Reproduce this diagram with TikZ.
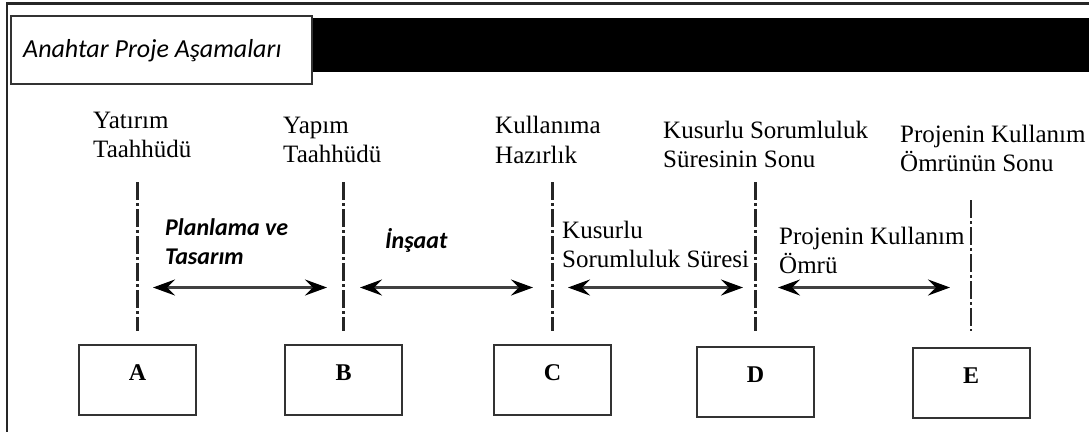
\documentclass[tikz,border=0pt]{standalone}
\usepackage{fontspec}
\setmainfont{Liberation Serif}
\newfontfamily\calib{Carlito}
\usetikzlibrary{arrows.meta}
\begin{document}
\begin{tikzpicture}[x=1pt,y=-1pt,
  frame/.style={draw=black!85, line width=2.2pt},
  ser/.style={font=\fontsize{25}{29}\selectfont, inner sep=0pt, anchor=base west},
  phase/.style={font=\calib\fontsize{24}{29}\selectfont\bfseries\itshape, inner sep=0pt, anchor=base west},
  mbox/.style={draw=black!80, line width=2pt, minimum width=117pt, minimum height=70pt, inner sep=0pt, text height=17pt, text depth=16pt, font=\fontsize{24}{28}\selectfont\bfseries},
  vline/.style={draw=black!85, line width=2.2pt, dash pattern=on 18pt off 3pt on 3pt off 3pt, shorten >=12.5pt},
  span/.style={draw=black!75, line width=2.4pt,
    {Stealth[length=22pt,width=16pt,inset=8pt,color=black]}-{Stealth[length=22pt,width=16pt,inset=8pt,color=black]}}
]
\useasboundingbox (0,0) rectangle (1089,432);
% frame
\draw[frame] (1089,3.5) -- (7,3.5) -- (7,432);
% black bar and title
\fill[black] (300,18) rectangle (1089,72);
\node[draw=black!80, fill=white, line width=1.8pt, minimum width=301pt, minimum height=68pt, anchor=north west, inner sep=0pt] (title) at (10,15) {};
\node[font=\calib\fontsize{26}{30}\selectfont\itshape, inner sep=0pt, anchor=base west] (titletext) at (23,57) {Anahtar Proje Aşamaları};
% milestone labels
\node[ser] (l1a) at (93,128) {Yatırım};
\node[ser] (l1b) at (93,157) {Taahhüdü};
\node[ser] (l2a) at (283,133) {Yapım};
\node[ser] (l2b) at (283,162) {Taahhüdü};
\node[ser] (l3a) at (495,133) {Kullanıma};
\node[ser] (l3b) at (495,163) {Hazırlık};
\node[ser] (l4a) at (663,138) {Kusurlu Sorumluluk};
\node[ser] (l4b) at (663,167) {Süresinin Sonu};
\node[ser] (l5a) at (900,142) {Projenin Kullanım};
\node[ser] (l5b) at (900,171) {Ömrünün Sonu};
% phase labels
\node[phase] (p1a) at (165,235) {Planlama ve};
\node[phase] (p1b) at (165,264) {Tasarım};
\node[phase] (p2) at (385,248) {İnşaat};
\node[ser] (p3a) at (562,238) {Kusurlu};
\node[ser] (p3b) at (562,267) {Sorumluluk Süresi};
\node[ser] (p4a) at (779,244) {Projenin Kullanım};
\node[ser] (p4b) at (779,273) {Ömrü};
% boxes
\node[mbox] (A) at (137.5,379.5) {A};
\node[mbox] (B) at (343.5,379.5) {B};
\node[mbox] (C) at (552.5,379.5) {C};
\node[mbox] (D) at (755.5,382) {D};
\node[mbox] (E) at (971,383) {E};
% vertical dash-dot lines
\coordinate (tA) at (A.north |- 0,182);
\coordinate (tB) at (B.north |- 0,182);
\coordinate (tC) at (C.north |- 0,182);
\coordinate (tD) at (D.north |- 0,182);
\coordinate (tE) at (E.north |- 0,200);
\draw[vline] (tA) -- (A.north);
\draw[vline] (tB) -- (B.north);
\draw[vline] (tC) -- (C.north);
\draw[vline, shorten >=15pt] (tD) -- (D.north);
\draw[vline, shorten >=16pt] (tE) -- (E.north);
% phase arrows
\coordinate (a1s) at (153,287.5);
\coordinate (a1e) at (327,287.5);
\coordinate (a2s) at (360,287.5);
\coordinate (a2e) at (533,287.5);
\coordinate (a3s) at (568,287.5);
\coordinate (a3e) at (743,287.5);
\coordinate (a4s) at (778,287.5);
\coordinate (a4e) at (950,287.5);
\draw[span] (a1s) -- (a1e);
\draw[span] (a2s) -- (a2e);
\draw[span] (a3s) -- (a3e);
\draw[span] (a4s) -- (a4e);
\end{tikzpicture}
\end{document}
